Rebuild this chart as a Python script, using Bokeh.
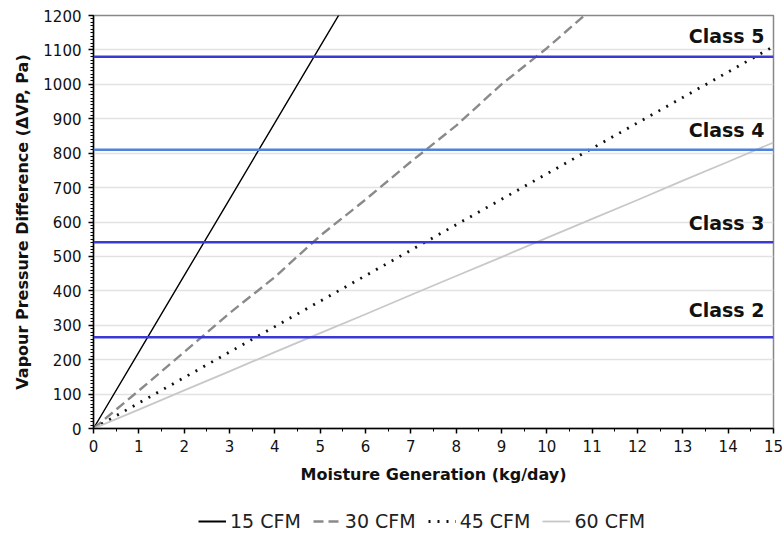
from bokeh.plotting import figure
from bokeh.layouts import column
from bokeh.models import Range1d, Legend, LegendItem, FixedTicker, Span, Label
from bokeh.embed import file_html
from bokeh.resources import INLINE

# Data
x_15 = [0, 1, 2, 3, 4, 5, 6]
y_15 = [0, 222, 444, 666, 888, 1110, 1332]
x_30 = [0, 1, 2, 3, 4, 5, 6, 7, 8, 9, 10, 11]
y_30 = [0, 110, 222, 335, 440, 560, 665, 775, 880, 1000, 1105, 1220]
x_45 = [0, 1, 2, 3, 4, 5, 6, 7, 8, 9, 10, 11, 12, 13, 14, 15]
y_45 = [0, 74, 148, 222, 296, 370, 444, 518, 592, 666, 740, 814, 888, 962, 1036, 1110]
x_60 = [0, 1, 2, 3, 4, 5, 6, 7, 8, 9, 10, 11, 12, 13, 14, 15]
y_60 = [0, 55, 111, 166, 222, 277, 332, 388, 443, 498, 554, 609, 664, 720, 775, 831]
series_names = ["15 CFM", "30 CFM", "45 CFM", "60 CFM"]

class_names = ["Class 2", "Class 3", "Class 4", "Class 5"]
class_levels = [265, 541, 810, 1080]

x_ticks = list(range(0, 16))
y_ticks = list(range(0, 1300, 100))

# styles
class_colors = ["#3a3ad2", "#3a3ad2", "#4f82dc", "#3a3ad2"]
label_offsets = [27, 19, 20, 21]
FONT = "DejaVu Sans"

p = figure(width=784, height=491, output_backend="svg", toolbar_location=None,
           x_range=Range1d(0, 15), y_range=Range1d(0, 1200),
           min_border_left=93, min_border_right=11, min_border_top=15, min_border_bottom=63)
p.background_fill_color = "white"
p.border_fill_color = "white"
p.outline_line_color = "#888888"
p.outline_line_width = 1.5

# grid
p.xgrid.visible = False
p.ygrid.grid_line_color = "#e2e2e2"
p.ygrid.grid_line_width = 1.5
p.ygrid.ticker = FixedTicker(ticks=y_ticks)

# axes
p.xaxis.ticker = FixedTicker(ticks=x_ticks, minor_ticks=[v + 0.5 for v in x_ticks[:-1]])
p.yaxis.ticker = FixedTicker(ticks=y_ticks, minor_ticks=list(range(0, 1201, 10)))
for ax in (p.xaxis[0], p.yaxis[0]):
    ax.axis_line_color = "black"
    ax.axis_line_width = 1.5
    ax.major_tick_line_color = "black"
    ax.major_tick_line_width = 1.5
    ax.minor_tick_line_color = "black"
    ax.major_tick_out = 5
    ax.major_tick_in = 0
    ax.minor_tick_out = 3
    ax.minor_tick_in = 0
    ax.major_label_text_font = FONT
    ax.major_label_text_font_size = "15px"
    ax.major_label_text_color = "#111111"
    ax.axis_label_text_font = FONT
    ax.axis_label_text_font_size = "16px"
    ax.axis_label_text_font_style = "bold"
    ax.axis_label_text_color = "#111111"
p.xaxis.axis_label = "Moisture Generation (kg/day)"
p.yaxis.axis_label = "Vapour Pressure Difference (\u0394VP, Pa)"
p.xaxis.major_label_standoff = 6
p.yaxis.major_label_standoff = 7
p.xaxis.axis_label_standoff = 10
p.yaxis.axis_label_standoff = 8

# class lines
for name, lvl, col, off in zip(class_names, class_levels, class_colors, label_offsets):
    p.add_layout(Span(location=lvl, dimension="width", line_color=col, line_width=2.5))
    p.add_layout(Label(x=14.8, y=lvl, y_offset=off, text=name, text_align="right",
                       text_baseline="middle", text_font=FONT, text_font_size="19px",
                       text_font_style="bold", text_color="#111111"))

styles = [
    dict(line_color="black", line_width=1.4),
    dict(line_color="#8a8a8a", line_width=2.4, line_dash="10 5"),
    dict(line_color="#111111", line_width=2.8, line_dash="2 7"),
    dict(line_color="#c8c8c8", line_width=1.8),
]
for xs, ys, st in zip([x_15, x_30, x_45, x_60], [y_15, y_30, y_45, y_60], styles):
    p.line(xs, ys, **st)

# legend panel below (dummy renderers lie outside its range, only the legend shows)
p2 = figure(width=784, height=50, output_backend="svg", toolbar_location=None,
            x_range=Range1d(0, 1), y_range=Range1d(0, 1),
            min_border_left=0, min_border_right=0, min_border_top=0, min_border_bottom=0)
p2.axis.visible = False
p2.grid.visible = False
p2.outline_line_color = None
p2.background_fill_color = "white"
p2.border_fill_color = "white"
legend_styles = [dict(st) for st in styles]
legend_styles[0]["line_width"] = 2
dummies = [p2.line([-5, -4], [-5, -4], **st) for st in legend_styles]
legend = Legend(items=[LegendItem(label=n, renderers=[r]) for n, r in zip(series_names, dummies)],
                orientation="horizontal", location=(105, 9),
                label_text_font=FONT, label_text_font_size="19px", label_text_color="#222222",
                glyph_width=28, label_standoff=4, spacing=12, padding=0, margin=0,
                border_line_color=None, background_fill_alpha=0)
p2.add_layout(legend, "center")

open("out.html", "w").write(file_html(column(p, p2, spacing=0), INLINE))
